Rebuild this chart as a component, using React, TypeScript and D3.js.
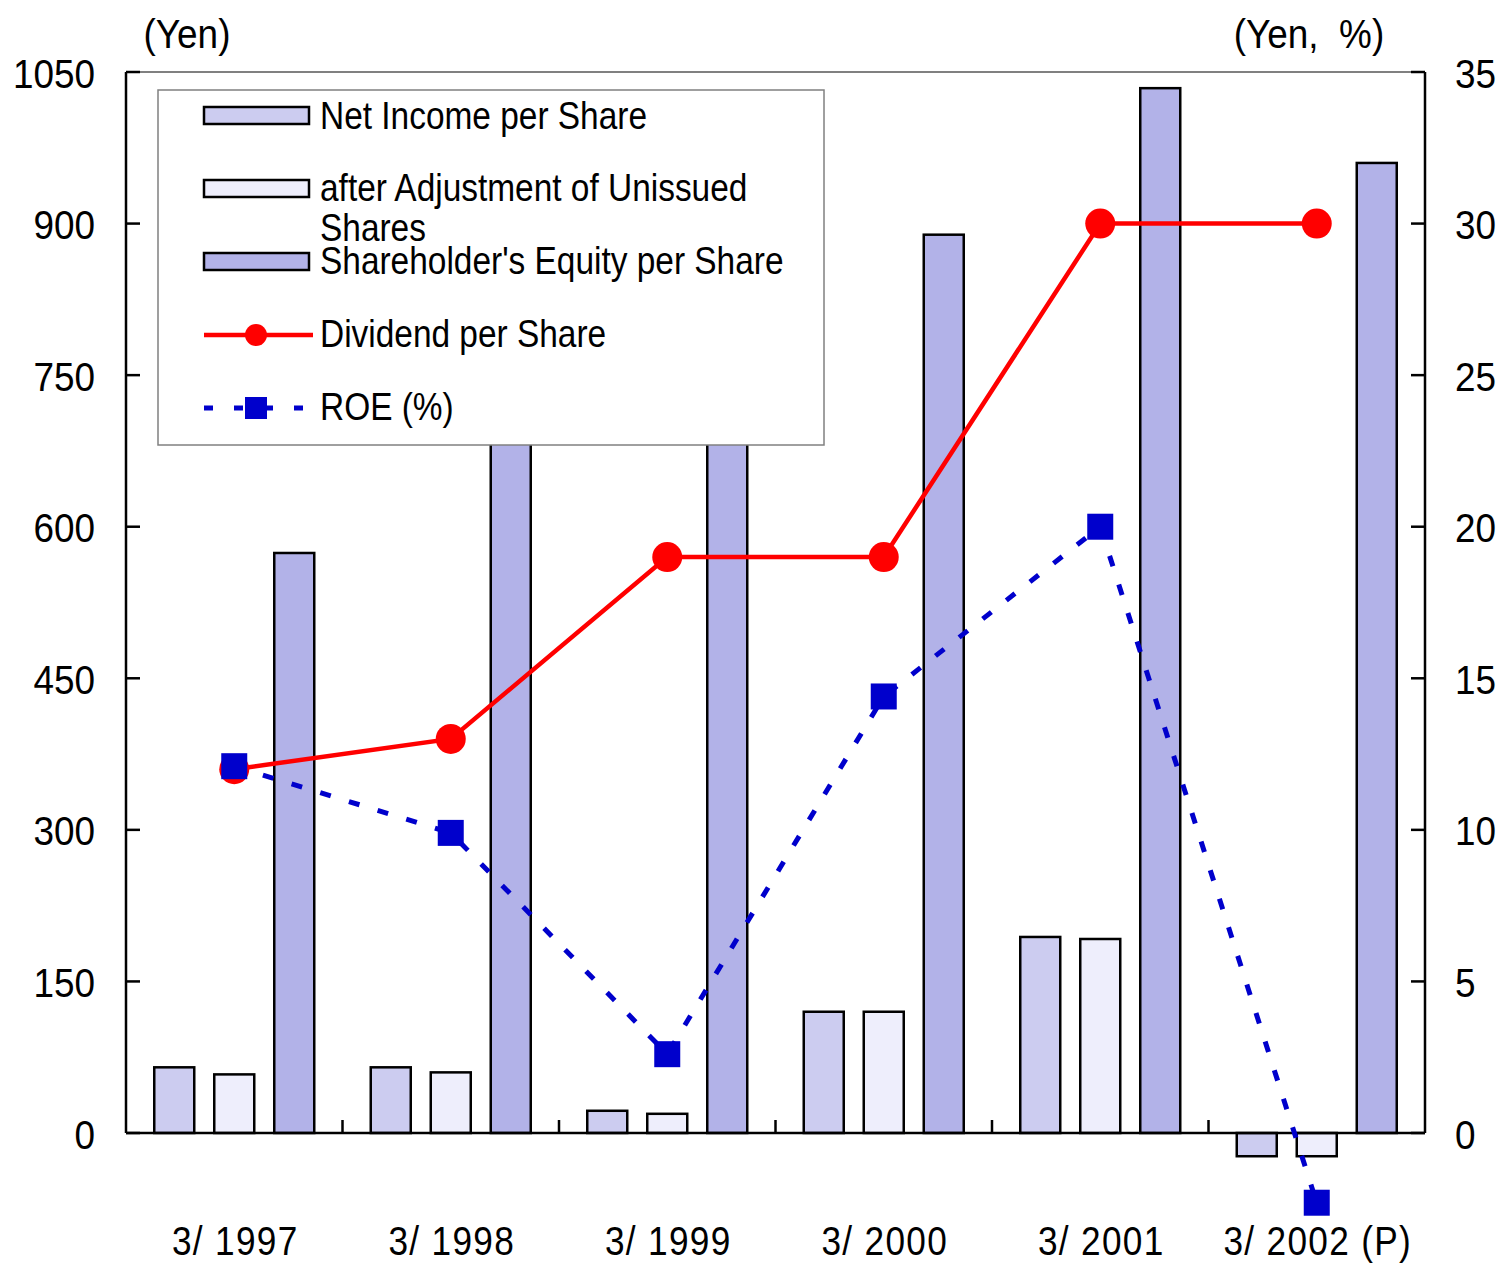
import React from "react";
import * as d3 from "d3";

const categories = ["3/1997", "3/1998", "3/1999", "3/2000", "3/2001", "3/2002 (P)"];
const netIncome = [65, 65, 22, 120, 194, -23];
const netIncomeAdj = [58, 60, 19, 120, 192, -23];
const equity = [574, 720, 780, 889, 1034, 960];
const dividend = [12, 13, 19, 19, 30, 30];
const roe = [12.1, 9.9, 2.6, 14.4, 20.0, -2.3];
const leftTicks = [0, 150, 300, 450, 600, 750, 900, 1050];
const rightTicks = [0, 5, 10, 15, 20, 25, 30, 35];
const barSeries = ["ni", "adj", "eq"];
const barColors = ["#CCCCF0", "#EEEEFC", "#B2B2E8"];
const barValues = [netIncome, netIncomeAdj, equity];

const W = 1503, H = 1263;
const L = 126, R = 1425, T = 72, B = 1133;
const FONT = "'Liberation Sans', Arial, sans-serif";

function CText({ x, y, size, sx = 0.9, anchor = "start", dy = "0", ls = 0, children }: any) {
  return (
    <text
      transform={`translate(${x},${y}) scale(${sx},1)`}
      fontSize={size}
      textAnchor={anchor}
      dy={dy}
      fontFamily={FONT}
      letterSpacing={ls}
      fill="#000"
      style={{ whiteSpace: "pre" }}
    >
      {children}
    </text>
  );
}

export default function App() {
  const x = d3.scaleBand<string>().domain(categories).range([L, R]).padding(0);
  const xs = d3.scaleBand<string>().domain(barSeries).range([-80, 80]).paddingInner(1 / 3).paddingOuter(0);
  const yL = d3.scaleLinear().domain([0, 1050]).range([B, T]);
  const yR = d3.scaleLinear().domain([0, 35]).range([B, T]);
  const cx = (c: string) => (x(c) as number) + x.bandwidth() / 2;

  const divLine = d3.line<number>().x((_, i) => cx(categories[i])).y((d) => yR(d));
  const roeLine = d3.line<number>().x((_, i) => cx(categories[i])).y((d) => yR(d));

  const boundaries = categories.slice(1).map((c) => x(c) as number);

  return (
    <svg width={W} height={H} style={{ position: "absolute", left: 0, top: 0, background: "#fff" }}>
      <rect x={0} y={0} width={W} height={H} fill="#fff" />
      {/* bars */}
      {categories.map((c, i) =>
        barSeries.map((s, j) => {
          const v = barValues[j][i];
          const x0 = cx(c) + (xs(s) as number);
          const y0 = Math.min(yL(v), yL(0));
          const h = Math.abs(yL(v) - yL(0));
          return (
            <rect key={c + s} x={x0} y={y0} width={xs.bandwidth()} height={h}
              fill={barColors[j]} stroke="#000" strokeWidth={2.5} />
          );
        })
      )}
      {/* frame */}
      <line x1={L} x2={R} y1={T} y2={T} stroke="#808080" strokeWidth={2} />
      <line x1={L} x2={L} y1={T} y2={B} stroke="#000" strokeWidth={2.5} />
      <line x1={R} x2={R} y1={T} y2={B} stroke="#000" strokeWidth={2.5} />
      <line x1={L} x2={R} y1={B} y2={B} stroke="#000" strokeWidth={2.5} />
      {leftTicks.map((t) => (
        <g key={"l" + t}>
          <line x1={L} x2={L + 14} y1={yL(t)} y2={yL(t)} stroke="#000" strokeWidth={2.5} />
          <CText x={95} y={yL(t)} size={41} anchor="end" dy="0.38em">{t}</CText>
        </g>
      ))}
      {rightTicks.map((t) => (
        <g key={"r" + t}>
          <line x1={R - 14} x2={R} y1={yR(t)} y2={yR(t)} stroke="#000" strokeWidth={2.5} />
          <CText x={1455} y={yR(t)} size={41} anchor="start" dy="0.38em">{t}</CText>
        </g>
      ))}
      {boundaries.map((b, i) => (
        <line key={"b" + i} x1={b} x2={b} y1={B} y2={B - 13} stroke="#000" strokeWidth={2.5} />
      ))}
      {categories.map((c) => (
        <CText key={"x" + c} x={cx(c) + 1} y={1255} size={40} sx={0.88} anchor="middle" ls={1.5}>
          {c.replace("/", "/ ")}
        </CText>
      ))}
      <CText x={187} y={48} size={41} anchor="middle">(Yen)</CText>
      <CText x={1309} y={48} size={41} anchor="middle">{"(Yen,  %)"}</CText>

      {/* lines */}
      <path d={divLine(dividend) || ""} fill="none" stroke="#FF0000" strokeWidth={4.5} />
      {dividend.map((d, i) => (
        <circle key={"d" + i} cx={cx(categories[i])} cy={yR(d)} r={15} fill="#FF0000" />
      ))}
      <path d={roeLine(roe) || ""} fill="none" stroke="#0000CC" strokeWidth={5} strokeDasharray="11 19" />
      {roe.map((d, i) => (
        <rect key={"q" + i} x={cx(categories[i]) - 13} y={yR(d) - 13} width={26} height={26} fill="#0000CC" />
      ))}

      {/* legend */}
      <rect x={158} y={90} width={666} height={355} fill="#fff" stroke="#808080" strokeWidth={1.5} />
      <rect x={204} y={107} width={105} height={17} fill={barColors[0]} stroke="#000" strokeWidth={2.5} />
      <CText x={320} y={129} size={38} sx={0.88}>Net Income per Share</CText>
      <rect x={204} y={180} width={105} height={17} fill={barColors[1]} stroke="#000" strokeWidth={2.5} />
      <CText x={320} y={201} size={38} sx={0.88}>after Adjustment of Unissued</CText>
      <CText x={320} y={241} size={38} sx={0.88}>Shares</CText>
      <rect x={204} y={253} width={105} height={17} fill={barColors[2]} stroke="#000" strokeWidth={2.5} />
      <CText x={320} y={274} size={38} sx={0.88}>Shareholder's Equity per Share</CText>
      <line x1={204} x2={313} y1={335} y2={335} stroke="#FF0000" strokeWidth={4.5} />
      <circle cx={256} cy={335} r={11} fill="#FF0000" />
      <CText x={320} y={347} size={38} sx={0.88}>Dividend per Share</CText>
      <line x1={204} x2={308} y1={408} y2={408} stroke="#0000CC" strokeWidth={5} strokeDasharray="9 21" />
      <rect x={245} y={397} width={22} height={22} fill="#0000CC" />
      <CText x={320} y={420} size={38} sx={0.88}>ROE (%)</CText>
    </svg>
  );
}
